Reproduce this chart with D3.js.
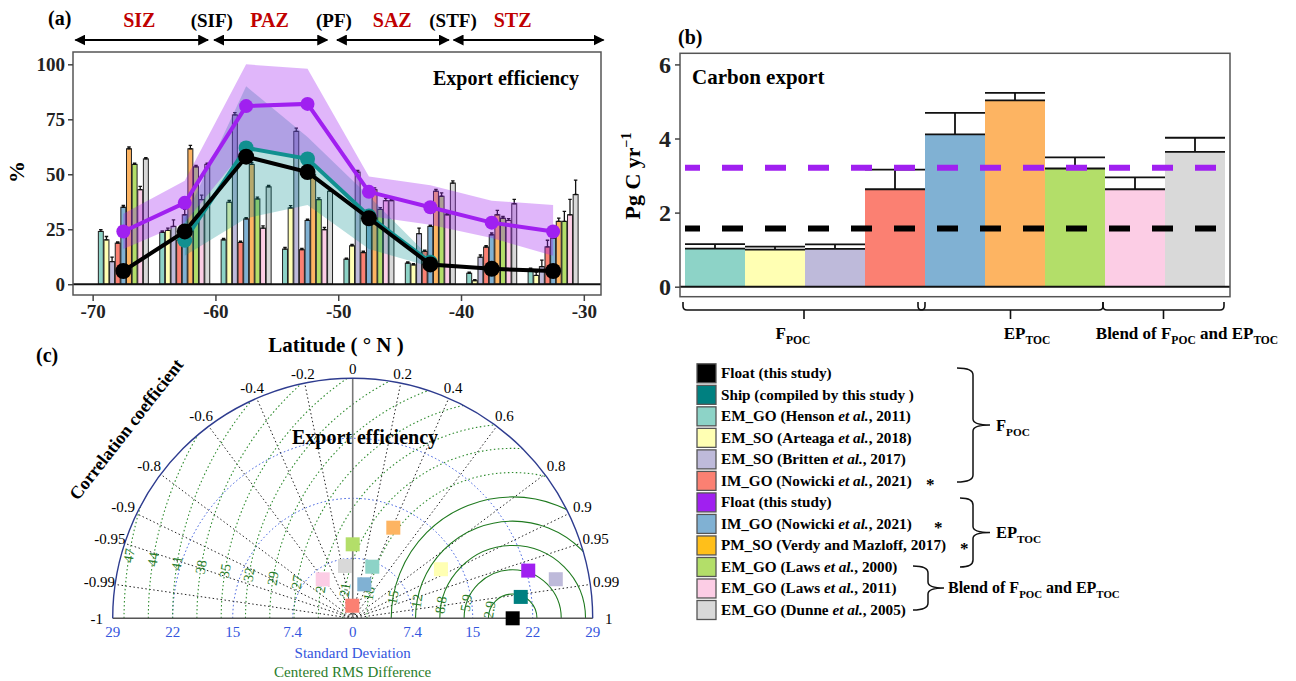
<!DOCTYPE html>
<html>
<head>
<meta charset="utf-8"/>
<style>
  body { margin: 0; background: #fff; }
  svg { font-family: "Liberation Serif", "Times New Roman", serif; }
  .axA .tick text, .axB .tick text { font-weight: bold; fill: #222; }
  .axA .domain, .axB .domain { display: none; }
</style>
</head>
<body>
<svg id="fig" width="1296" height="681"></svg>
<script src="https://d3js.org/d3.v7.min.js"></script>
<script>
  // ---------- data: panel (a) export efficiency (%) by latitude band ----------
  var lats = [-67.5, -62.5, -57.5, -52.5, -47.5, -42.5, -37.5, -32.5];

  var floatFpoc   = [6, 24, 58, 51, 30, 9, 7, 6];
  var floatEPtoc  = [24, 37, 81, 82, 42, 35, 28, 24];
  var floatEPlow  = [16, 28, 62, 58, 31, 27, 21, 13];
  var floatEPhigh = [32, 47, 100, 98, 49, 45, 38, 36];
  var shipFpoc    = [null, 20, 62, 57, 31, 10, null, null];
  var shipLow     = [null, 13, 30, 36, 16, 8, null, null];
  var shipHigh    = [null, 30, 90, 67, 40, 12, null, null];

  var henson    = [24, 23.6, 20.2, 16, 11.4, 9.6, 5, 6.8];
  var arteaga   = [20.2, 24.5, 37.3, 34.7, 17.5, 8.8, 1.6, 4];
  var britten   = [10.3, 26.3, 77, 69.5, 51, 23, 12.3, 8];
  var nowickiF  = [18.7, 20, 19, 15.7, 14.4, 14.9, 16.9, 17];
  var nowickiEP = [35, 31.6, 29.7, 29, 33, 26.3, 22.5, 21];
  var verdy     = [61.6, 61.6, 54.5, 50, 43, 42.3, 31.6, 28.6];
  var laws2000  = [54.5, 53.4, 38.8, 38.5, 34, 40, 30, 28.6];
  var laws2011  = [43, 38.5, 25.5, 24.8, 38, 31.6, 29, 31.6];
  var dunne     = [57, 54.5, 44.3, 42.3, 38, 46, 36.6, 40.8];

  var hensonErr    = [0.8, 0.6, 0.6, 0.8, 0.5, 0.5, 0.5, 0.5];
  var arteagaErr   = [1.5, 1, 0.8, 1, 0.6, 0.5, 0.5, 1.5];
  var brittenErr   = [2, 3, 1, 1.5, 0.8, 2.5, 1, 3];
  var nowickiFErr  = [0.6, 0.6, 0.6, 0.6, 0.6, 0.6, 0.6, 3];
  var nowickiEPErr = [0.8, 2.5, 0.6, 0.6, 0.6, 0.6, 0.8, 0.8];
  var verdyErr     = [0.8, 1.5, 0.8, 0.8, 0.8, 0.8, 2, 1.5];
  var laws2000Err  = [0.6, 0.6, 0.8, 0.8, 0.8, 1.5, 0.8, 4.5];
  var laws2011Err  = [1.5, 2, 1, 1, 1, 0.6, 0.8, 7];
  var dunneErr     = [0.6, 0.6, 0.6, 0.6, 0.6, 1, 2, 6.5];

  var barSeries = [henson, arteaga, britten, nowickiF, nowickiEP, verdy, laws2000, laws2011, dunne];
  var barErrors = [hensonErr, arteagaErr, brittenErr, nowickiFErr, nowickiEPErr, verdyErr, laws2000Err, laws2011Err, dunneErr];
  var barColors = ['#8dd3c7', '#ffffb3', '#bebada', '#fb8072', '#80b1d3', '#fdb462', '#b3de69', '#fccde5', '#d9d9d9'];

  // zones and fronts (latitude)
  var zoneNames  = ['SIZ', 'PAZ', 'SAZ', 'STZ'];
  var zoneLabelLat = [-66.2, -55.6, -45.6, -35.8];
  var zoneStart  = [-71.4, -60.1, -50.1, -40.6];
  var zoneEnd    = [-60.6, -50.9, -41.0, -28.4];
  var frontNames = ['(SIF)', '(PF)', '(STF)'];
  var frontLabelLat = [-60.3, -50.35, -40.65];

  // ---------- data: panel (b) carbon export (Pg C / yr) ----------
  var carbonExport    = [1.03, 1.0, 1.02, 2.63, 4.11, 5.03, 3.19, 2.63, 3.64];
  var carbonExportErr = [0.12, 0.08, 0.12, 0.53, 0.58, 0.2, 0.3, 0.32, 0.38];
  var floatFpocTotal  = 1.57;
  var floatEPtocTotal = 3.21;
  var yTicksB = [0, 2, 4, 6];

  // ---------- data: panel (c) Taylor diagram ----------
  var taylorColors = ['#000000', '#008080', '#8dd3c7', '#ffffb3', '#bebada', '#fb8072',
                      '#a020f0', '#80b1d3', '#fdb462', '#b3de69', '#fccde5', '#d9d9d9'];
  var taylorSd   = [19.33, 20.47, 6.67, 12.2, 24.99, 1.52, 21.98, 4.34, 12.0, 8.94, 5.94, 6.39];
  var taylorCorr = [1.0, 0.992, 0.355, 0.874, 0.982, -0.03, 0.965, 0.323, 0.409, 0.0, -0.61, -0.146];
  var refSd = 19.33;
  var sdTicks = [7.25, 14.5, 21.75, 29];
  var sdTickLabels = ['7.4', '15', '22', '29'];
  var corrTicks = [0.2, 0.4, 0.6, 0.8, 0.9, 0.95, 0.99];
  var rmsLabels = ['2.9', '5.9', '8.8', '12', '15', '18', '21', '24', '27', '29', '32', '35', '38', '41', '44', '47'];
  var rmsStep = 2.935;

  // legend
  var legendColors = ['#000000', '#008080', '#8dd3c7', '#ffffb3', '#bebada', '#fb8072',
                      '#a020f0', '#80b1d3', '#ffbf1a', '#b3de69', '#fccde5', '#d9d9d9'];
  var legendText = [
    [['Float (this study)']],
    [['Ship (compiled by this study )']],
    [['EM_GO (Henson '], ['et al.', 'i'], [', 2011)']],
    [['EM_SO (Arteaga '], ['et al.', 'i'], [', 2018)']],
    [['EM_SO (Britten '], ['et al.', 'i'], [', 2017)']],
    [['IM_GO (Nowicki '], ['et al.', 'i'], [', 2021)']],
    [['Float (this study)']],
    [['IM_GO (Nowicki '], ['et al.', 'i'], [', 2021)']],
    [['PM_SO (Verdy and Mazloff, 2017)']],
    [['EM_GO (Laws '], ['et al.', 'i'], [', 2000)']],
    [['EM_GO (Laws '], ['et al.', 'i'], [', 2011)']],
    [['EM_GO (Dunne '], ['et al.', 'i'], [', 2005)']]
  ];

  var serif = '"Liberation Serif", "Times New Roman", serif';
  var svg = d3.select('#fig');

  // helper: text made of parts, ['txt'] normal, ['txt','i'] italic, ['txt','sub'] subscript
  function rich(sel, parts) {
    var shifted = false;
    parts.forEach(function(p) {
      var t = sel.append('tspan').text(p[0]);
      if (p[1] === 'i') t.attr('font-style', 'italic');
      if (p[1] === 'sub') { t.attr('font-size', '68%').attr('dy', 5); shifted = true; }
      else if (shifted) { t.attr('dy', -5); shifted = false; }
    });
    return sel;
  }
  function styleAxis(size) {
    return function(g) {
      g.attr('font-family', serif);
      g.selectAll('text').attr('font-size', size);
      g.selectAll('line').attr('stroke', '#444').attr('stroke-width', 1.5);
    };
  }

  // ======================= panel (a) =======================
  var xA = d3.scaleLinear().domain([-71.6, -28.6]).range([73, 601]);
  var yA = d3.scaleLinear().domain([-4.9, 105.6]).range([295, 52]);
  var gA = svg.append('g');

  var inner = d3.scaleBand().domain(d3.range(9)).range([-25, 25]).paddingInner(0.12);

  barSeries.forEach(function(series, k) {
    series.forEach(function(v, i) {
      var x0 = xA(lats[i]) + inner(k);
      gA.append('rect')
        .attr('x', x0).attr('width', inner.bandwidth())
        .attr('y', yA(v)).attr('height', yA(0) - yA(v))
        .attr('fill', barColors[k]).attr('stroke', '#222').attr('stroke-width', 1);
      var e = barErrors[k][i];
      var cx = x0 + inner.bandwidth() / 2, cw = inner.bandwidth() * 0.35;
      gA.append('path')
        .attr('d', 'M' + (cx - cw) + ',' + yA(v + e) + 'H' + (cx + cw) + 'M' + cx + ',' + yA(v + e) + 'V' + yA(v)
              + 'M' + (cx - cw) + ',' + yA(v) + 'H' + (cx + cw))
        .attr('stroke', '#111').attr('stroke-width', 1.3).attr('fill', 'none');
    });
  });

  // zero line
  gA.append('line').attr('x1', 73).attr('x2', 601).attr('y1', yA(0)).attr('y2', yA(0))
    .attr('stroke', '#111').attr('stroke-width', 2);

  // uncertainty bands
  var bandArea = function(lo, hi) {
    return d3.area()
      .defined(function(d, i) { return lo[i] !== null; })
      .x(function(d) { return xA(d); })
      .y0(function(d, i) { return yA(lo[i]); })
      .y1(function(d, i) { return yA(hi[i]); })(lats);
  };
  gA.append('path').attr('d', bandArea(shipLow, shipHigh)).attr('fill', '#008b8b').attr('opacity', 0.28);
  gA.append('path').attr('d', bandArea(floatEPlow, floatEPhigh)).attr('fill', '#a020f0').attr('opacity', 0.33);

  function drawLine(vals, color, r) {
    var line = d3.line()
      .defined(function(d, i) { return vals[i] !== null; })
      .x(function(d) { return xA(d); })
      .y(function(d, i) { return yA(vals[i]); });
    gA.append('path').attr('d', line(lats)).attr('fill', 'none').attr('stroke', color).attr('stroke-width', 4);
    lats.forEach(function(l, i) {
      if (vals[i] === null) return;
      gA.append('circle').attr('cx', xA(l)).attr('cy', yA(vals[i])).attr('r', r).attr('fill', color);
    });
  }
  drawLine(shipFpoc, '#119090', 7.5);
  drawLine(floatEPtoc, '#a020f0', 7);
  drawLine(floatFpoc, '#000000', 8);

  gA.append('rect').attr('x', 73).attr('y', 52).attr('width', 528).attr('height', 243)
    .attr('fill', 'none').attr('stroke', '#555').attr('stroke-width', 1.5);

  gA.append('g').attr('class', 'axA').attr('transform', 'translate(0,295)')
    .call(d3.axisBottom(xA).tickValues([-70, -60, -50, -40, -30]).tickFormat(function(d) { return String(d); })
      .tickSize(6).tickPadding(4))
    .call(styleAxis(19));
  gA.append('g').attr('class', 'axA').attr('transform', 'translate(73,0)')
    .call(d3.axisLeft(yA).tickValues([0, 25, 50, 75, 100]).tickSize(5).tickPadding(3))
    .call(styleAxis(19));

  gA.append('text').attr('x', 579).attr('y', 85).attr('text-anchor', 'end')
    .attr('font-size', 20).attr('font-weight', 'bold').text('Export efficiency');
  gA.append('text').attr('transform', 'translate(24,172) rotate(-90)').attr('text-anchor', 'middle')
    .attr('font-size', 22).attr('font-weight', 'bold').text('%');
  gA.append('text').attr('x', 336).attr('y', 352).attr('text-anchor', 'middle')
    .attr('font-size', 21).attr('font-weight', 'bold').text('Latitude ( \u00b0 N )');
  svg.append('text').attr('x', 48).attr('y', 25).attr('font-size', 20).attr('font-weight', 'bold').text('(a)');

  // zones
  var defs = svg.append('defs');
  defs.append('marker').attr('id', 'ah').attr('viewBox', '0 0 10 10').attr('refX', 9).attr('refY', 5)
    .attr('markerWidth', 5).attr('markerHeight', 5).attr('orient', 'auto-start-reverse')
    .append('path').attr('d', 'M0,0L10,5L0,10Z').attr('fill', '#000');
  zoneNames.forEach(function(z, i) {
    gA.append('line').attr('x1', xA(zoneStart[i])).attr('x2', xA(zoneEnd[i])).attr('y1', 40).attr('y2', 40)
      .attr('stroke', '#000').attr('stroke-width', 2.2)
      .attr('marker-start', 'url(#ah)').attr('marker-end', 'url(#ah)');
    gA.append('text').attr('x', xA(zoneLabelLat[i])).attr('y', 27).attr('text-anchor', 'middle')
      .attr('font-size', 20).attr('font-weight', 'bold').attr('fill', '#c00000').text(z);
  });
  frontNames.forEach(function(f, i) {
    gA.append('text').attr('x', xA(frontLabelLat[i])).attr('y', 27).attr('text-anchor', 'middle')
      .attr('font-size', 19).attr('font-weight', 'bold').text(f);
  });

  // ======================= panel (b) =======================
  var xB = d3.scaleBand().domain(d3.range(9)).range([685, 1225]).padding(0);
  var yB = d3.scaleLinear().domain([-0.27, 6.3]).range([296.7, 53.3]);
  var gB = svg.append('g');

  carbonExport.forEach(function(v, i) {
    gB.append('rect').attr('x', xB(i)).attr('width', xB.bandwidth())
      .attr('y', yB(v)).attr('height', yB(0) - yB(v)).attr('fill', barColors[i]);
  });
  carbonExport.forEach(function(v, i) {
    var x0 = xB(i), x1 = xB(i) + xB.bandwidth(), xc = (x0 + x1) / 2;
    var top = yB(v + carbonExportErr[i]);
    gB.append('path')
      .attr('d', 'M' + x0 + ',' + yB(v) + 'H' + x1 + 'M' + xc + ',' + yB(v) + 'V' + top + 'M' + x0 + ',' + top + 'H' + x1)
      .attr('stroke', '#111').attr('stroke-width', 1.8).attr('fill', 'none');
  });
  gB.append('line').attr('x1', 680).attr('x2', 1230).attr('y1', yB(0)).attr('y2', yB(0))
    .attr('stroke', '#111').attr('stroke-width', 2);

  [[floatEPtocTotal, '#a020f0'], [floatFpocTotal, '#000000']].forEach(function(d) {
    gB.append('line').attr('x1', 685).attr('x2', 1225).attr('y1', yB(d[0])).attr('y2', yB(d[0]))
      .attr('stroke', d[1]).attr('stroke-width', 6).attr('stroke-dasharray', '21,22').attr('stroke-dashoffset', 6);
  });

  gB.append('rect').attr('x', 680).attr('y', 53.3).attr('width', 550).attr('height', 243.4)
    .attr('fill', 'none').attr('stroke', '#555').attr('stroke-width', 1.5);
  gB.append('g').attr('class', 'axB').attr('transform', 'translate(680,0)')
    .call(d3.axisLeft(yB).tickValues(yTicksB).tickFormat(d3.format('d')).tickSize(5).tickPadding(4))
    .call(styleAxis(24));

  gB.append('text').attr('x', 692).attr('y', 84).attr('font-size', 21).attr('font-weight', 'bold').text('Carbon export');
  var yl = gB.append('text').attr('transform', 'translate(640,176) rotate(-90)').attr('text-anchor', 'middle')
    .attr('font-size', 22).attr('font-weight', 'bold');
  yl.append('tspan').text('Pg C yr');
  yl.append('tspan').attr('font-size', 14).attr('dy', -9).text('\u22121');
  svg.append('text').attr('x', 678).attr('y', 44).attr('font-size', 20).attr('font-weight', 'bold').text('(b)');

  // group brackets under panel (b)
  var bracketGroups = [[0, 3], [4, 6], [7, 8]];
  var bracketLabels = [
    [['F'], ['POC', 'sub']],
    [['EP'], ['TOC', 'sub']],
    [['Blend of F'], ['POC', 'sub'], [' and EP'], ['TOC', 'sub']]
  ];
  var bracketPad = [[-2, 0], [-7, -2], [-2, -1]];
  var bracketLabelX = [793, 1027, 1187];
  bracketGroups.forEach(function(b, i) {
    var x0 = xB(b[0]) + bracketPad[i][0], x1 = xB(b[1]) + xB.bandwidth() + bracketPad[i][1];
    var xc = (x0 + x1) / 2;
    gB.append('path')
      .attr('d', 'M' + x0 + ',302V306Q' + x0 + ',310 ' + (x0 + 4) + ',310H' + (x1 - 4) + 'Q' + x1 + ',310 ' + x1 + ',306V302'
            + 'M' + xc + ',310V319')
      .attr('stroke', '#111').attr('stroke-width', 1.6).attr('fill', 'none');
    rich(gB.append('text').attr('x', bracketLabelX[i]).attr('y', 339).attr('text-anchor', 'middle')
      .attr('font-size', 17).attr('font-weight', 'bold'), bracketLabels[i]);
  });

  // ======================= legend =======================
  var gL = svg.append('g');
  var legY = d3.scaleLinear().domain([0, 11]).range([373.3, 610]);
  legendText.forEach(function(parts, i) {
    gL.append('rect').attr('x', 697).attr('y', legY(i) - 9.5).attr('width', 19).attr('height', 19)
      .attr('fill', legendColors[i]).attr('stroke', '#555').attr('stroke-width', 1.3);
    rich(gL.append('text').attr('x', 721).attr('y', legY(i) + 5).attr('font-size', 15.2).attr('font-weight', 'bold'), parts);
  });
  [[5, 926], [7, 934], [8, 960]].forEach(function(s) {
    gL.append('text').attr('x', s[1]).attr('y', legY(s[0]) + 9).attr('font-size', 17).attr('font-weight', 'bold').text('*');
  });
  function brace(y1, y2, xa, xb, xt) {
    var ym = (y1 + y2) / 2;
    return 'M' + xa + ',' + y1 + 'Q' + xb + ',' + y1 + ' ' + xb + ',' + (y1 + 7) + 'V' + (ym - 6)
      + 'Q' + xb + ',' + ym + ' ' + xt + ',' + ym + 'Q' + xb + ',' + ym + ' ' + xb + ',' + (ym + 6)
      + 'V' + (y2 - 7) + 'Q' + xb + ',' + y2 + ' ' + xa + ',' + y2;
  }
  gL.append('path').attr('d', brace(368, 482, 957, 973, 990)).attr('stroke', '#111').attr('stroke-width', 1.5).attr('fill', 'none');
  gL.append('path').attr('d', brace(498, 567, 960, 973, 990)).attr('stroke', '#111').attr('stroke-width', 1.5).attr('fill', 'none');
  gL.append('path').attr('d', brace(566, 610, 913, 928, 944)).attr('stroke', '#111').attr('stroke-width', 1.5).attr('fill', 'none');
  rich(gL.append('text').attr('x', 996).attr('y', 431).attr('font-size', 16.5).attr('font-weight', 'bold'), [['F'], ['POC', 'sub']]);
  rich(gL.append('text').attr('x', 996).attr('y', 538).attr('font-size', 16.5).attr('font-weight', 'bold'), [['EP'], ['TOC', 'sub']]);
  rich(gL.append('text').attr('x', 948).attr('y', 593).attr('font-size', 16).attr('font-weight', 'bold'),
    [['Blend of F'], ['POC', 'sub'], [' and EP'], ['TOC', 'sub']]);

  // ======================= panel (c) Taylor diagram =======================
  var cx = 352.7, cy = 618.3;
  var rS = d3.scaleLinear().domain([0, 29]).range([0, 240]);
  var R = rS(29);
  var gC = svg.append('g');
  function pt(sd, c) { var a = Math.acos(c); return [cx + rS(sd) * Math.cos(a), cy - rS(sd) * Math.sin(a)]; }

  defs.append('clipPath').attr('id', 'semi').append('path')
    .attr('d', 'M' + (cx - R) + ',' + cy + 'A' + R + ',' + R + ' 0 0 1 ' + (cx + R) + ',' + cy + 'Z');

  // std arcs
  sdTicks.slice(0, 3).forEach(function(t) {
    var r = rS(t);
    gC.append('path').attr('d', 'M' + (cx - r) + ',' + cy + 'A' + r + ',' + r + ' 0 0 1 ' + (cx + r) + ',' + cy)
      .attr('fill', 'none').attr('stroke', '#3355dd').attr('stroke-width', 1).attr('stroke-dasharray', '1.5,2.5');
  });
  // correlation rays
  corrTicks.concat(corrTicks.map(function(c) { return -c; })).forEach(function(c) {
    var p = pt(29, c);
    gC.append('line').attr('x1', cx).attr('y1', cy).attr('x2', p[0]).attr('y2', p[1])
      .attr('stroke', '#222').attr('stroke-width', 1).attr('stroke-dasharray', '1.5,2.5');
  });
  // centered RMS arcs around reference
  var refX = cx + rS(refSd);
  var gRms = gC.append('g').attr('clip-path', 'url(#semi)');
  rmsLabels.forEach(function(lab, k) {
    var r = rS((k + 1) * rmsStep);
    gRms.append('path').attr('d', 'M' + (refX - r) + ',' + cy + 'A' + r + ',' + r + ' 0 0 1 ' + (refX + r) + ',' + cy)
      .attr('fill', 'none').attr('stroke', k < 5 ? '#1f7a1f' : '#2e8b2e').attr('stroke-width', 1.1)
      .attr('stroke-dasharray', k < 5 ? null : '1.5,2.5');
  });
  rmsLabels.forEach(function(lab, k) {
    var r = rS((k + 1) * rmsStep), a = (k < 2 ? 164 : 171) * Math.PI / 180;
    var lx = refX + r * Math.cos(a), ly = cy - r * Math.sin(a) - 2;
    gC.append('text').attr('transform', 'translate(' + lx + ',' + ly + ') rotate(-81)')
      .attr('text-anchor', 'middle').attr('dy', '0.35em').attr('font-size', 14).attr('fill', '#2a7d2a').text(lab);
  });
  // axis lines
  gC.append('line').attr('x1', cx).attr('y1', cy).attr('x2', cx).attr('y2', cy - R).attr('stroke', '#777').attr('stroke-width', 1.6);
  gC.append('line').attr('x1', cx - R).attr('y1', cy).attr('x2', cx + R).attr('y2', cy).attr('stroke', '#555').attr('stroke-width', 1.4);
  gC.append('path').attr('d', 'M' + (cx - R) + ',' + cy + 'A' + R + ',' + R + ' 0 0 1 ' + (cx + R) + ',' + cy)
    .attr('fill', 'none').attr('stroke', '#2e3c8f').attr('stroke-width', 1.4);

  // correlation labels
  var corrLabels = [0].concat(corrTicks, [1], corrTicks.map(function(c) { return -c; }), [-1]);
  corrLabels.forEach(function(c) {
    var rr = R + 8 + Math.abs(c) * 8;
    var a = Math.acos(c);
    var lx = cx + rr * Math.cos(a), ly = cy - rr * Math.sin(a);
    if (c === 0) ly = cy - R - 10;
    gC.append('text').attr('x', lx).attr('y', ly).attr('dy', '0.35em').attr('text-anchor', 'middle')
      .attr('font-size', 15).text(c === 1 ? '1' : c === -1 ? '-1' : String(c));
  });
  // std tick labels
  var sdLabelPos = [0].concat(sdTicks, sdTicks.map(function(t) { return -t; }));
  var sdLabelTxt = ['0'].concat(sdTickLabels, sdTickLabels);
  sdLabelPos.forEach(function(t, i) {
    gC.append('text').attr('x', cx + rS(t)).attr('y', cy + 19).attr('text-anchor', 'middle')
      .attr('font-size', 15).attr('fill', '#3355dd').text(sdLabelTxt[i]);
  });
  gC.append('text').attr('x', cx).attr('y', cy + 40).attr('text-anchor', 'middle').attr('font-size', 15).attr('fill', '#3355dd').text('Standard Deviation');
  gC.append('text').attr('x', cx).attr('y', cy + 59).attr('text-anchor', 'middle').attr('font-size', 15).attr('fill', '#2a7d2a').text('Centered RMS Difference');
  gC.append('text').attr('transform', 'translate(131,433) rotate(-52)').attr('text-anchor', 'middle')
    .attr('font-size', 18).attr('font-weight', 'bold').text('Correlation coefficient');
  gC.append('text').attr('x', 365).attr('y', 444).attr('text-anchor', 'middle')
    .attr('font-size', 20).attr('font-weight', 'bold').text('Export efficiency');
  svg.append('text').attr('x', 36).attr('y', 362).attr('font-size', 20).attr('font-weight', 'bold').text('(c)');

  // markers
  taylorSd.forEach(function(sd, i) {
    var p = pt(sd, taylorCorr[i]);
    gC.append('rect').attr('x', p[0] - 7).attr('y', p[1] - 7).attr('width', 14).attr('height', 14)
      .attr('fill', taylorColors[i]);
  });
</script>
</body>
</html>
